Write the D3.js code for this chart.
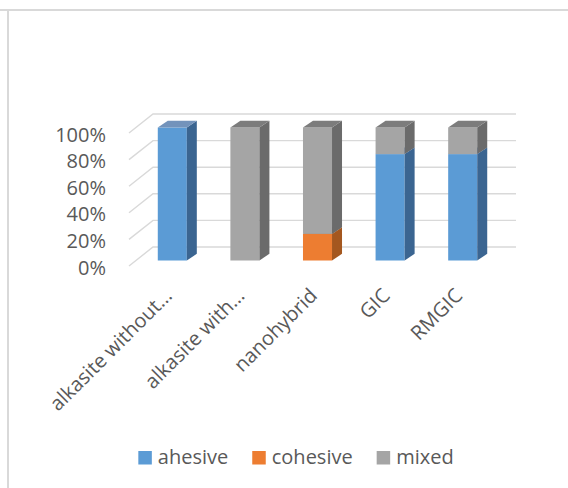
<!DOCTYPE html>
<html>
<head>
<meta charset="utf-8">
<script src="https://cdn.jsdelivr.net/npm/d3@7"></script>
<style>
  html, body { margin: 0; padding: 0; background: #ffffff; }
  svg { display: block; }
  text { font-family: "Open Sans", "Noto Sans", sans-serif; fill: #595959; }
</style>
</head>
<body>
<script>
// ---- data ----
const categories = ["alkasite without…", "alkasite with…", "nanohybrid", "GIC", "RMGIC"];
const seriesNames = ["ahesive", "cohesive", "mixed"];
const ahesive  = [1.0, 0.0, 0.0, 0.8, 0.8];
const cohesive = [0.0, 0.0, 0.2, 0.0, 0.0];
const mixed    = [0.0, 1.0, 0.8, 0.2, 0.2];
const yTicks = [0, 0.2, 0.4, 0.6, 0.8, 1.0];
const yTickLabels = ["0%", "20%", "40%", "60%", "80%", "100%"];

// ---- styling ----
const colors = {
  ahesive:  { front: "#5b9bd5", side: "#3b6591", top: "#7393bb" },
  cohesive: { front: "#ed7d31", side: "#a4571f", top: "#b9743f" },
  mixed:    { front: "#a5a5a5", side: "#6b6b6b", top: "#7c7c7c" }
};

const W = 568, H = 488;
const svg = d3.select("body").append("svg").attr("width", W).attr("height", H);

// chart border (partially visible)
svg.append("line").attr("x1", 0).attr("x2", W).attr("y1", 10).attr("y2", 10)
  .attr("stroke", "#d9d9d9").attr("stroke-width", 2);
svg.append("line").attr("x1", 8).attr("x2", 8).attr("y1", 10).attr("y2", H)
  .attr("stroke", "#d9d9d9").attr("stroke-width", 2);

// 3D geometry
const front = { x0: 129, x1: 492, y0: 266, y1: 133 };
const depth = [24, -19];
const barOff = [7, -5.5];
const barDepth = [10, -6.7];

const x = d3.scaleBand().domain(categories).range([front.x0, front.x1])
  .paddingInner(0.6).paddingOuter(0.3);
const y = d3.scaleLinear().domain([0, 1]).range([front.y0, front.y1]);

// gridlines: side wall diagonals + back wall horizontals
const grid = svg.append("g").attr("stroke", "#d9d9d9").attr("stroke-width", 1.4).attr("fill", "none");
yTicks.forEach(t => {
  const yf = y(t);
  grid.append("path")
    .attr("d", `M${front.x0},${yf}L${front.x0 + depth[0]},${yf + depth[1]}L${front.x1 + depth[0]},${yf + depth[1]}`);
});

// y axis labels
svg.append("g").selectAll("text").data(yTicks).join("text")
  .attr("x", 106).attr("y", d => y(d) + 1.5).attr("dy", "0.35em")
  .attr("text-anchor", "end").attr("font-size", 20)
  .text((d, i) => yTickLabels[i]);

// stacked data
const table = categories.map((c, i) => ({ cat: c, ahesive: ahesive[i], cohesive: cohesive[i], mixed: mixed[i] }));
const stack = d3.stack().keys(seriesNames)(table);

const bw = x.bandwidth();
const bars = svg.append("g");
stack.forEach(layer => {
  const col = colors[layer.key];
  layer.forEach(seg => {
    if (seg[1] - seg[0] <= 0) return;
    const xl = x(seg.data.cat) + barOff[0];
    const xr = xl + bw;
    const yb = y(seg[0]) + barOff[1];
    const yt = y(seg[1]) + barOff[1];
    const g = bars.append("g");
    g.append("rect").attr("x", xl).attr("y", yt).attr("width", bw).attr("height", yb - yt)
      .attr("fill", col.front);
    g.append("path")
      .attr("d", `M${xr},${yb}L${xr + barDepth[0]},${yb + barDepth[1]}L${xr + barDepth[0]},${yt + barDepth[1]}L${xr},${yt}Z`)
      .attr("fill", col.side);
    g.append("path")
      .attr("d", `M${xl},${yt}L${xr},${yt}L${xr + barDepth[0]},${yt + barDepth[1]}L${xl + barDepth[0]},${yt + barDepth[1]}Z`)
      .attr("fill", col.top);
  });
});

// category labels (rotated -45°)
svg.append("g").selectAll("text").data(categories).join("text")
  .attr("transform", d => `translate(${x(d) + bw / 2 + barOff[0] - 4},${292}) rotate(-45)`)
  .attr("text-anchor", "end").attr("dy", "0.35em").attr("font-size", 20)
  .text(d => d);

// legend
const legend = svg.append("g");
const sq = 13.5, gapText = 6, gapItem = 24;
let cx = 0;
const items = [];
seriesNames.forEach(name => {
  const it = legend.append("g");
  it.append("rect").attr("x", 0).attr("y", 451).attr("width", sq).attr("height", sq)
    .attr("fill", colors[name].front);
  const t = it.append("text").attr("x", sq + gapText).attr("y", 464).attr("font-size", 20).text(name);
  const w = sq + gapText + t.node().getComputedTextLength();
  items.push({ it, off: cx });
  cx += w + gapItem;
});
const total = cx - gapItem;
const start = 296 - total / 2;
items.forEach(d => d.it.attr("transform", `translate(${start + d.off},0)`));
</script>
</body>
</html>
